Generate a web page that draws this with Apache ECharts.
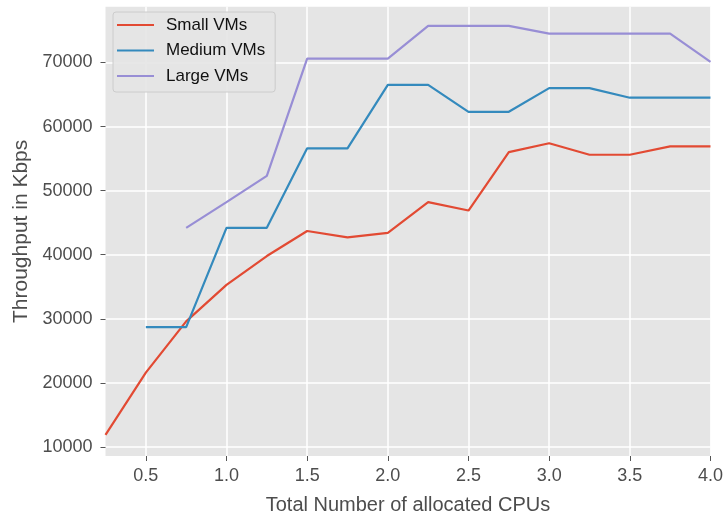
<!DOCTYPE html>
<html>
<head>
<meta charset="utf-8">
<script src="https://cdn.jsdelivr.net/npm/echarts@6/dist/echarts.min.js"></script>
<style>
html,body{margin:0;padding:0;background:#fff;}
#c{width:726px;height:520px;}
</style>
</head>
<body>
<div id="c"></div>
<script>
var seriesNames = ['Small VMs', 'Medium VMs', 'Large VMs'];
var xSmall = [0.25, 0.5, 0.75, 1.0, 1.25, 1.5, 1.75, 2.0, 2.25, 2.5, 2.75, 3.0, 3.25, 3.5, 3.75, 4.0];
var ySmall = [11900, 21600, 29600, 35300, 39800, 43700, 42700, 43400, 48200, 46900, 56000, 57400, 55600, 55600, 56900, 56900];
var xMedium = [0.5, 0.75, 1.0, 1.25, 1.5, 1.75, 2.0, 2.25, 2.5, 2.75, 3.0, 3.25, 3.5, 3.75, 4.0];
var yMedium = [28700, 28700, 44200, 44200, 56600, 56600, 66500, 66500, 62300, 62300, 66000, 66000, 64500, 64500, 64500];
var xLarge = [0.75, 1.0, 1.25, 1.5, 1.75, 2.0, 2.25, 2.5, 2.75, 3.0, 3.25, 3.5, 3.75, 4.0];
var yLarge = [44200, 48200, 52300, 70600, 70600, 70600, 75700, 75700, 75700, 74500, 74500, 74500, 74500, 70100];
var xTicks = [0.5, 1.0, 1.5, 2.0, 2.5, 3.0, 3.5, 4.0];
var yTicks = [10000, 20000, 30000, 40000, 50000, 60000, 70000];
var colors = ['#E24A33', '#348ABD', '#988ED5'];

function pairs(xs, ys) { return xs.map(function (x, i) { return [x, ys[i]]; }); }

var FONT = '"Liberation Sans", Arial, sans-serif';
var lineIcon = 'path://M0,0 L0.01,0 L0,0.01 Z M0,6.9 L37,6.9 L37,9.1 L0,9.1 Z M0,16 L0.01,16 L0,15.99 Z';
var chart = echarts.init(document.getElementById('c'), null, {renderer: 'canvas'});
chart.setOption({
  animation: false,
  backgroundColor: '#ffffff',
  color: colors,
  textStyle: {fontFamily: FONT},
  grid: {left: 105.5, right: 13, top: 6.7, bottom: 61, show: true, backgroundColor: '#e5e5e5', borderWidth: 0, containLabel: false},
  legend: {
    orient: 'vertical', left: 113, top: 12,
    padding: [4.5, 10, 7.5, 4],
    itemWidth: 37, itemHeight: 16, itemGap: 8.5,
    icon: lineIcon,
    backgroundColor: 'rgba(229,229,229,0.92)', borderColor: '#cccccc', borderWidth: 1, borderRadius: 3,
    textStyle: {fontSize: 17, color: '#111111', fontFamily: FONT, padding: [0, 0, 0, 7]},
    data: seriesNames
  },
  xAxis: {
    type: 'value', min: 0.25, max: 4.0,
    name: 'Total Number of allocated CPUs', nameLocation: 'middle', nameGap: 39,
    nameTextStyle: {fontSize: 20, color: '#4d4d4d', fontFamily: FONT},
    axisLine: {show: false},
    axisTick: {show: true, length: 5, lineStyle: {color: '#555555', width: 1}, customValues: xTicks},
    axisLabel: {fontSize: 18, color: '#4d4d4d', margin: 11, customValues: xTicks, formatter: function (v) { return v.toFixed(1); }},
    splitLine: {show: true, lineStyle: {color: '#ffffff', width: 1.5}, customValues: xTicks}
  },
  yAxis: {
    type: 'value', min: 8600, max: 78700,
    name: 'Throughput in Kbps', nameLocation: 'middle', nameGap: 68,
    nameTextStyle: {fontSize: 21, color: '#4d4d4d', fontFamily: FONT},
    axisLine: {show: false},
    axisTick: {show: true, length: 5, lineStyle: {color: '#555555', width: 1}, customValues: yTicks},
    axisLabel: {fontSize: 18, color: '#4d4d4d', margin: 13, customValues: yTicks, formatter: function (v) { return String(v); }},
    splitLine: {show: true, lineStyle: {color: '#ffffff', width: 1.5}, customValues: yTicks}
  },
  series: [
    {name: seriesNames[0], type: 'line', data: pairs(xSmall, ySmall), symbol: 'none', lineStyle: {width: 2.2}, z: 3},
    {name: seriesNames[1], type: 'line', data: pairs(xMedium, yMedium), symbol: 'none', lineStyle: {width: 2.2}, z: 3},
    {name: seriesNames[2], type: 'line', data: pairs(xLarge, yLarge), symbol: 'none', lineStyle: {width: 2.2}, z: 3}
  ]
});
</script>
</body>
</html>
